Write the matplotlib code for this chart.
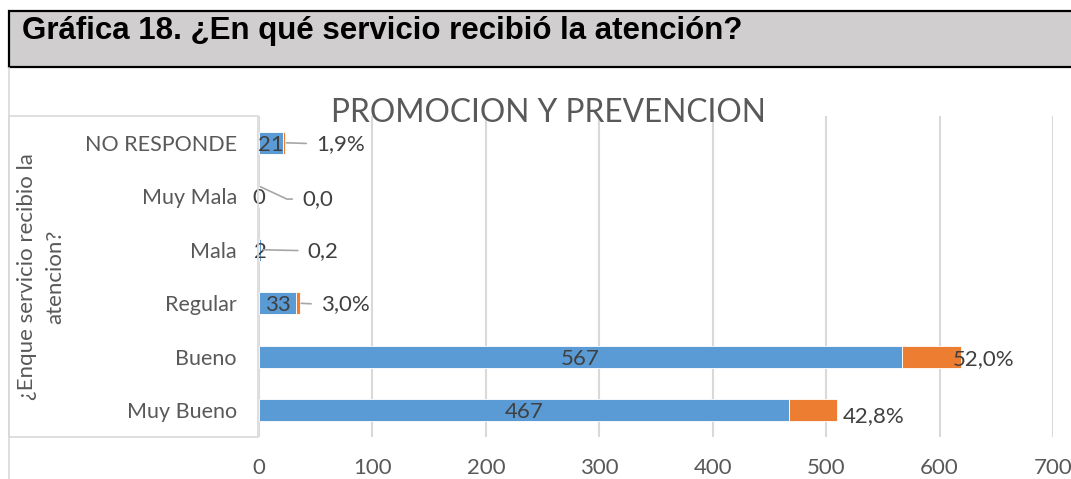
import matplotlib
matplotlib.use("Agg")
import matplotlib.pyplot as plt
from matplotlib.patches import Rectangle
from matplotlib.lines import Line2D

# datos (de abajo hacia arriba, como en la grafica de Excel)
categorias = ["Muy Bueno", "Bueno", "Regular", "Mala", "Muy Mala", "NO RESPONDE"]
frecuencia = [467, 567, 33, 2, 0, 21]
porcentaje = [42.8, 52.0, 3.0, 0.2, 0.0, 1.9]
etiquetas_pct = ["42,8%", "52,0%", "3,0%", "0,2", "0,0", "1,9%"]
ticks_x = [0, 100, 200, 300, 400, 500, 600, 700]

titulo_hoja = "Gráfica 18. ¿En qué servicio recibió la atención?"
titulo_graf = "PROMOCION Y PREVENCION"
titulo_eje = "¿Enque servicio recibio la\natencion?"

AZUL = "#5b9bd5"
NARANJA = "#ed7d31"
GRIS_TXT = "#595959"
GRIS_LIN = "#d9d9d9"
FUENTE = "Lato"

W, H = 1071, 479
fig = plt.figure(figsize=(W / 100, H / 100), dpi=100)


def fx(px):
    return px / W


def fy(py):
    return 1 - py / H


# encabezado gris
fig.patches.append(Rectangle((fx(9), fy(67)), fx(1100 - 9), fy(11) - fy(67),
                             transform=fig.transFigure, facecolor="#d0cece",
                             edgecolor="black", linewidth=1.6))
fig.text(fx(22), fy(39), titulo_hoja, fontfamily="Liberation Sans",
         fontweight="bold", fontsize=22.5, color="black", va="baseline")

# bordes del area del grafico
fig.lines.append(Line2D([fx(9), fx(9)], [fy(68), 0], transform=fig.transFigure,
                        color=GRIS_LIN, lw=1.2))
fig.patches.append(Rectangle((fx(9), fy(437)), fx(258 - 9), fy(116) - fy(437),
                             transform=fig.transFigure, facecolor="none",
                             edgecolor=GRIS_LIN, linewidth=1.2))

ax = fig.add_axes([fx(259), fy(437), fx(1053 - 259), fy(116) - fy(437)])
ax.set_facecolor("none")

y = list(range(len(categorias)))
alto = 0.41
ax.barh(y, frecuencia, height=alto, color=AZUL, edgecolor="white", linewidth=0.6, zorder=3)
ax.barh(y, porcentaje, left=frecuencia, height=alto, color=NARANJA,
        edgecolor="white", linewidth=0.6, zorder=3)

ax.set_xlim(0, 700)
ax.set_ylim(-0.5, len(categorias) - 0.5)
ax.set_xticks(ticks_x)
ax.set_yticks(y)
ax.set_yticklabels(categorias)
ax.grid(axis="x", color=GRIS_LIN, linewidth=1.5, zorder=0)
for s in ax.spines.values():
    s.set_visible(False)
ax.tick_params(axis="both", length=0, labelcolor=GRIS_TXT)
ax.tick_params(axis="y", pad=16, labelsize=15.5)
ax.tick_params(axis="x", pad=15, labelsize=16)
for t in ax.get_xticklabels() + ax.get_yticklabels():
    t.set_fontfamily(FUENTE)

# etiquetas de frecuencia (centradas en el tramo azul)
for yi, v in zip(y, frecuencia):
    ax.text(v / 2, yi, str(v), ha="center", va="center_baseline", fontsize=16,
            color="#404040", fontfamily=FUENTE, zorder=4)

# etiquetas de porcentaje, con linea guia en las barras cortas
desplaz = [(6, -4), (-8, 0), (21, 1), (46, 1), (43, -11), (31, 1)]
guia = [False, False, True, True, True, True]
for yi, v, p, lab, d, g in zip(y, frecuencia, porcentaje, etiquetas_pct, desplaz, guia):
    xy = (v + p, yi)
    if lab == "0,0":
        xy = (v + p, yi + 0.19)
    props = None
    if g:
        cs = "angle,angleA=0,angleB=-25,rad=0" if lab == "0,0" else "arc3"
        props = dict(arrowstyle="-", color="#a6a6a6", lw=1.2, shrinkA=5,
                     shrinkB=1, connectionstyle=cs, relpos=(0, 0.5))
    ax.annotate(lab, xy=xy, xytext=d, textcoords="offset pixels",
                ha="left", va="center_baseline", fontsize=16, color="#404040",
                fontfamily=FUENTE, arrowprops=props, zorder=4,
                annotation_clip=False)

fig.text(fx(548), fy(122), titulo_graf, ha="center", va="baseline",
         fontsize=22.75, color=GRIS_TXT, fontfamily=FUENTE)
fig.text(fx(41), fy(277), titulo_eje, ha="center", va="center", rotation=90,
         fontsize=16, color=GRIS_TXT, fontfamily=FUENTE, linespacing=1.5,
         multialignment="center")

fig.savefig("out.png", dpi=100)
